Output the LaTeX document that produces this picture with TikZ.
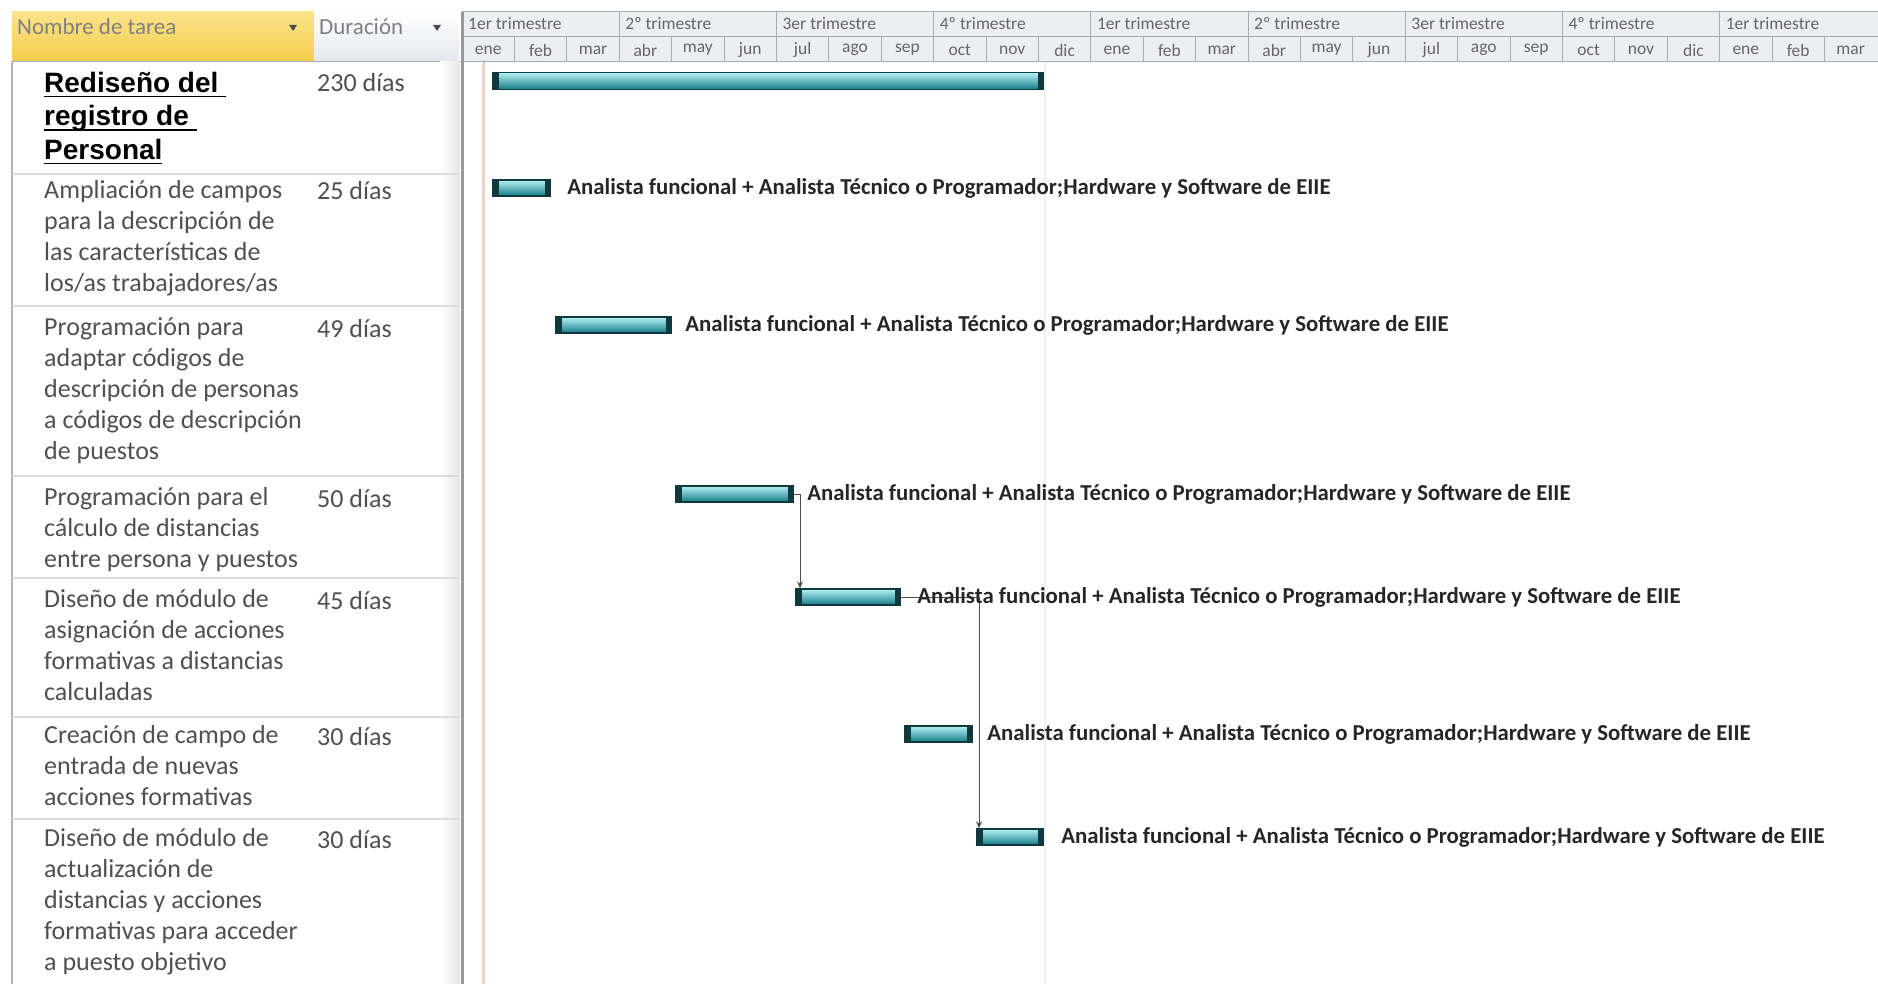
\documentclass[tikz,border=0pt]{standalone}
\usepackage{fontspec}
\setmainfont{Carlito}
\newfontfamily\titlefont{Liberation Sans}
\usetikzlibrary{positioning,arrows.meta}

\definecolor{hdrtop}{HTML}{FCE38A}
\definecolor{hdrbot}{HTML}{F5CC4C}
\definecolor{durhdr}{HTML}{E3E7EF}
\definecolor{timehdr}{HTML}{ECEEF2}
\definecolor{gridgray}{HTML}{A8ACB4}
\definecolor{rowgray}{HTML}{DCDCDC}
\definecolor{barlight}{HTML}{B8F2F6}
\definecolor{barmid}{HTML}{3CCBD5}
\definecolor{bardark}{HTML}{127A84}
\definecolor{barcap}{HTML}{0E3A3E}
\definecolor{startline}{HTML}{EBD2C2}
\definecolor{tasktext}{HTML}{505050}

% underlined line of the title
\newcommand{\ttlul}[1]{\setbox0\hbox{#1}\rlap{\copy0}\raisebox{-5pt}{\rule{\wd0}{1.8pt}}}

\begin{document}
\begin{tikzpicture}[x=1pt,y=-1pt,
    task/.style={anchor=north west,inner sep=0pt,align=left,text=tasktext,
      font=\fontsize{26}{31}\selectfont},
    dur/.style={anchor=west,inner sep=0pt,text=tasktext,
      font=\fontsize{26}{31}\selectfont},
    lbl/.style={anchor=west,inner sep=0pt,text=black!85,
      font=\bfseries\fontsize{22.8}{26}\selectfont},
    hdrtext/.style={anchor=west,inner sep=0pt,text=black!50,
      font=\fontsize{23}{26}\selectfont},
    qtext/.style={anchor=west,inner sep=0pt,text=black!60,
      font=\fontsize{17.5}{20}\selectfont},
    mtext/.style={inner sep=0pt,text=black!60,
      font=\fontsize{17.5}{20}\selectfont},
    gridline/.style={gridgray,line width=1pt},
    bar/.style={anchor=west,inner sep=0pt,minimum height=16pt,draw=barcap,
      line width=1.2pt,top color=barlight,middle color=barmid,bottom color=bardark,
      path picture={
        \fill[barcap] (path picture bounding box.north west) rectangle
          ([xshift=6pt]path picture bounding box.south west);
        \fill[barcap] (path picture bounding box.north east) rectangle
          ([xshift=-6pt]path picture bounding box.south east);}},
    link/.style={black!70,line width=1pt,-{Stealth[length=7pt,width=6pt]}}]

    % Define the grid of the time scale
    \def\xo{462}  % left edge of the time scale
    \def\qw{157.2}  % width of one quarter
    \def\mw{52.4}  % width of one month

    \useasboundingbox (0,0) rectangle (1878,984);
    \fill[white] (0,0) rectangle (1878,984);

    % Draw header cells
    \shade[top color=hdrtop,bottom color=hdrbot] (12,12) rectangle (314,62);
    \shade[top color=white,bottom color=durhdr] (314,12) rectangle (459,62);
    \fill[timehdr] (\xo,12) rectangle (1878,62);
    \node[hdrtext] (H1) at (17,27) {Nombre de tarea};
    \node[hdrtext] (H2) at (319,27) {Duración};
    \fill[black!70] (289,25) -- (297,25) -- (293,31) -- cycle;
    \fill[black!70] (433,25) -- (441,25) -- (437,31) -- cycle;
    \draw[gridline] (12,62) -- (1878,62);
    \draw[gridline] (\xo,37) -- (1878,37);
    \draw[gridline] (\xo,12) -- (1878,12);

    % Draw quarters and months
    \foreach \i/\q in {0/1er,1/2º,2/3er,3/4º,4/1er,5/2º,6/3er,7/4º,8/1er} {
      \node[qtext] (Q\i) at ({\xo+\i*\qw+6},24) {\q\ trimestre};
      \draw[gridline] ({\xo+\i*\qw},12) -- ({\xo+\i*\qw},62);
    }
    \foreach \m [count=\i from 0] in {ene,feb,mar,abr,may,jun,jul,ago,sep,oct,nov,dic,
        ene,feb,mar,abr,may,jun,jul,ago,sep,oct,nov,dic,ene,feb,mar} {
      \node[mtext] (M\i) at ({\xo+(\i+0.5)*\mw},50) {\m};
      \draw[gridline] ({\xo+\i*\mw},37) -- ({\xo+\i*\mw},62);
    }

    % Draw table borders and row lines
    \draw[black!30,line width=2pt] (12,62) -- (12,984);
    \shade[left color=white,right color=black!10] (440,62) rectangle (460,984);
    \draw[black!40,line width=3pt] (462,12) -- (462,984);
    \draw[startline,line width=3pt] (483,62) -- (483,984);
    \draw[black!6,line width=2pt] (1045,62) -- (1045,984);
    \draw[rowgray,line width=1.5pt] (12,174) -- (459,174);
    \draw[rowgray,line width=1.5pt] (12,306) -- (459,306);
    \draw[rowgray,line width=1.5pt] (12,476) -- (459,476);
    \draw[rowgray,line width=1.5pt] (12,578) -- (459,578);
    \draw[rowgray,line width=1.5pt] (12,717) -- (459,717);
    \draw[rowgray,line width=1.5pt] (12,819) -- (459,819);

    % Draw task names
    \node[task,text=black,font=\titlefont\bfseries\fontsize{28}{33.5}\selectfont] (T1) at (44,72)
      {\ttlul{Rediseño del\ }\\\ttlul{registro de\ }\\\ttlul{Personal}};
    \node[task] (T2) at (44,180) {Ampliación de campos\\para la descripción de\\las características de\\los/as trabajadores/as};
    \node[task] (T3) at (44,317) {Programación para\\adaptar códigos de\\descripción de personas\\a códigos de descripción\\de puestos};
    \node[task] (T4) at (44,487) {Programación para el\\cálculo de distancias\\entre persona y puestos};
    \node[task] (T5) at (44,589) {Diseño de módulo de\\asignación de acciones\\formativas a distancias\\calculadas};
    \node[task] (T6) at (44,725) {Creación de campo de\\entrada de nuevas\\acciones formativas};
    \node[task] (T7) at (44,828) {Diseño de módulo de\\actualización de\\distancias y acciones\\formativas para acceder\\a puesto objetivo};

    % Draw durations
    \node[dur] (D1) at (317,83) {230 días};
    \node[dur] (D2) at (317,191) {25 días};
    \node[dur] (D3) at (317,329) {49 días};
    \node[dur] (D4) at (317,499) {50 días};
    \node[dur] (D5) at (317,601) {45 días};
    \node[dur] (D6) at (317,737) {30 días};
    \node[dur] (D7) at (317,840) {30 días};

    % Draw bars
    \node[bar,minimum width=551pt,minimum height=17pt] (B1) at (492,81) {};
    \node[bar,minimum width=58pt] (B2) at (492,188) {};
    \node[bar,minimum width=116pt] (B3) at (555,325) {};
    \node[bar,minimum width=118pt] (B4) at (675,494) {};
    \node[bar,minimum width=105pt] (B5) at (795,597) {};
    \node[bar,minimum width=68pt] (B6) at (904,734) {};
    \node[bar,minimum width=67pt] (B7) at (976,837) {};

    % Draw links
    \draw[link] (B4.east) -| ([xshift=5pt]B5.north west);
    \draw[link] (B5.east) -| ([xshift=3pt]B7.north west);

    % Draw resource labels
    \node[lbl,right=16pt of B2] (L2) {Analista funcional + Analista Técnico o Programador;Hardware y Software de EIIE};
    \node[lbl,right=13pt of B3] (L3) {Analista funcional + Analista Técnico o Programador;Hardware y Software de EIIE};
    \node[lbl,right=13pt of B4] (L4) {Analista funcional + Analista Técnico o Programador;Hardware y Software de EIIE};
    \node[lbl,right=16pt of B5] (L5) {Analista funcional + Analista Técnico o Programador;Hardware y Software de EIIE};
    \node[lbl,right=14pt of B6] (L6) {Analista funcional + Analista Técnico o Programador;Hardware y Software de EIIE};
    \node[lbl,right=17pt of B7] (L7) {Analista funcional + Analista Técnico o Programador;Hardware y Software de EIIE};
\end{tikzpicture}
\end{document}
